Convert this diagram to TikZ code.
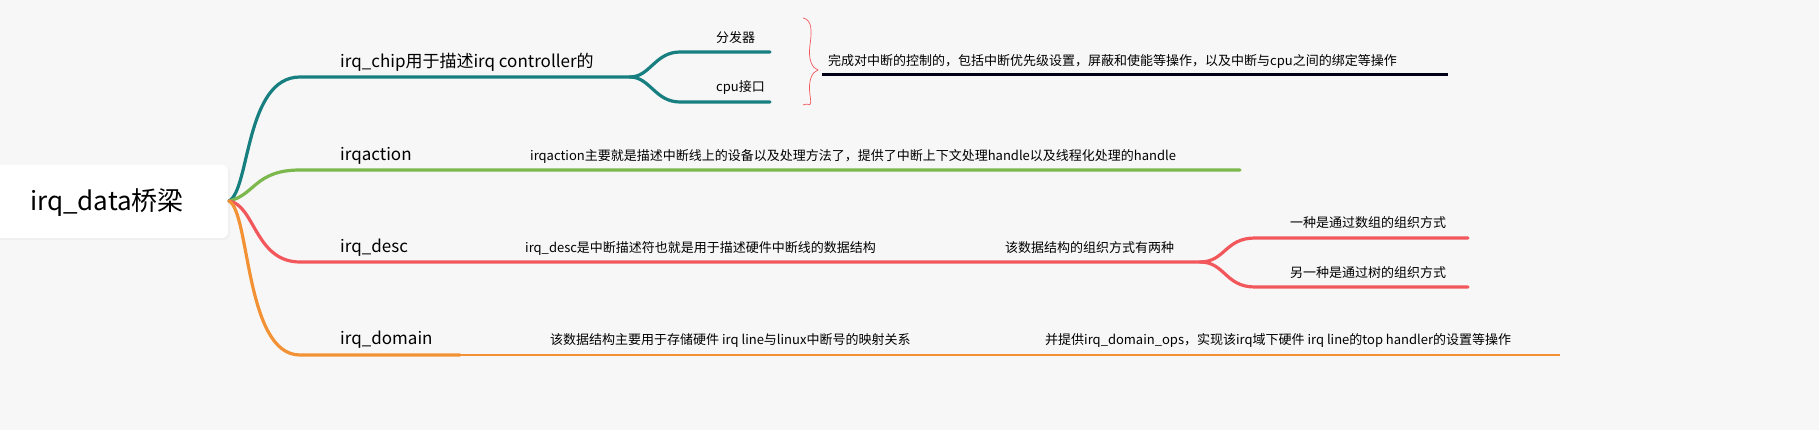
\documentclass[tikz,border=0pt]{standalone}
\usepackage{fontspec}
\setmainfont{Noto Sans CJK SC}
\definecolor{teal1}{HTML}{177F80}
\definecolor{green1}{HTML}{7CB84E}
\definecolor{red1}{HTML}{F2575C}
\definecolor{orange1}{HTML}{F39234}
\definecolor{bg}{HTML}{F7F7F7}
\begin{document}
\begin{tikzpicture}[x=1pt,y=-1pt,
  title/.style={font=\fontsize{17}{20}\selectfont,anchor=base west,inner sep=0},
  small/.style={font=\fontsize{13}{16}\selectfont,anchor=base west,inner sep=0},
  br/.style={line width=3.2pt,line cap=round}]
\fill[bg] (0,0) rectangle (1819,430);
\fill[black!6,rounded corners=6pt] (-12,167) rectangle (230,240);
\node[fill=white,rounded corners=6pt,minimum width=240pt,minimum height=73pt] (root) at (108,201.5) {};
\node[font=\fontsize{26}{30}\selectfont,inner sep=0] (roott) at (107,203) {irq\_data桥梁};
\coordinate (r) at (229,201);
% titles
\node[title] (t1) at (340,68) {irq\_chip用于描述irq controller的};
\node[title] (t2) at (340,161) {irqaction};
\node[title] (t3) at (340,252) {irq\_desc};
\node[title] (t4) at (340,344) {irq\_domain};
% branch curves
\coordinate (a1) at (300,77); \coordinate (e1) at (630,77);
\coordinate (a2) at (300,170); \coordinate (e2) at (1240,170);
\coordinate (a3) at (300,262); \coordinate (e3) at (1200,262);
\coordinate (a4) at (300,355); \coordinate (e4) at (460,355); \coordinate (f4) at (1560,355);
\draw[br,teal1] (r) .. controls (250,190) and (245,77) .. (a1) -- (e1);
\draw[br,green1] (r) .. controls (255,195) and (255,170) .. (a2) -- (e2);
\draw[br,red1] (r) .. controls (255,205) and (255,262) .. (a3) -- (e3);
\draw[br,orange1] (r) .. controls (250,212) and (245,355) .. (a4) -- (e4);
\draw[orange1,line width=1.3pt] (e4) -- (f4);
% chip fork
\coordinate (c1) at (770,52); \coordinate (c2) at (770,102);
\draw[br,teal1] (e1) .. controls (650,77) and (655,52) .. (680,52) -- (c1);
\draw[br,teal1] (e1) .. controls (650,77) and (655,102) .. (680,102) -- (c2);
\node[small] (s1) at (716,43) {分发器};
\node[small] (s2) at (716,92) {cpu接口};
\draw[red1,line width=0.7pt] (803,18) .. controls (812,20) and (812,30) .. (810,45) .. controls (808,60) and (812,68) .. (818,70)
  .. controls (812,72) and (808,80) .. (810,95) .. controls (812,110) and (810,102) .. (803,105);
\node[small] (ct) at (828,66) {完成对中断的控制的，包括中断优先级设置，屏蔽和使能等操作，以及中断与cpu之间的绑定等操作};
\coordinate (u1) at (822,75); \coordinate (u2) at (1448,75);
\draw[line width=3pt,black!90!blue] (u1) -- (u2);
% texts
\node[small] (d2) at (530,161) {irqaction主要就是描述中断线上的设备以及处理方法了，提供了中断上下文处理handle以及线程化处理的handle};
\node[small] (d3) at (525,252) {irq\_desc是中断描述符也就是用于描述硬件中断线的数据结构};
\node[small] (d3b) at (1005,252) {该数据结构的组织方式有两种};
\node[small] (d4) at (550,344) {该数据结构主要用于存储硬件 irq line与linux中断号的映射关系};
\node[small] (d4b) at (1045,344) {并提供irq\_domain\_ops，实现该irq域下硬件 irq line的top handler的设置等操作};
% desc fork
\coordinate (g1) at (1468,238); \coordinate (g2) at (1468,287);
\draw[br,red1] (e3) .. controls (1225,262) and (1225,238) .. (1255,238) -- (g1);
\draw[br,red1] (e3) .. controls (1225,262) and (1225,287) .. (1255,287) -- (g2);
\node[small] (h1) at (1290,228) {一种是通过数组的组织方式};
\node[small] (h2) at (1290,277) {另一种是通过树的组织方式};
\pgfresetboundingbox
\path[use as bounding box] (0,0) rectangle (1819,430);
\end{tikzpicture}
\end{document}
